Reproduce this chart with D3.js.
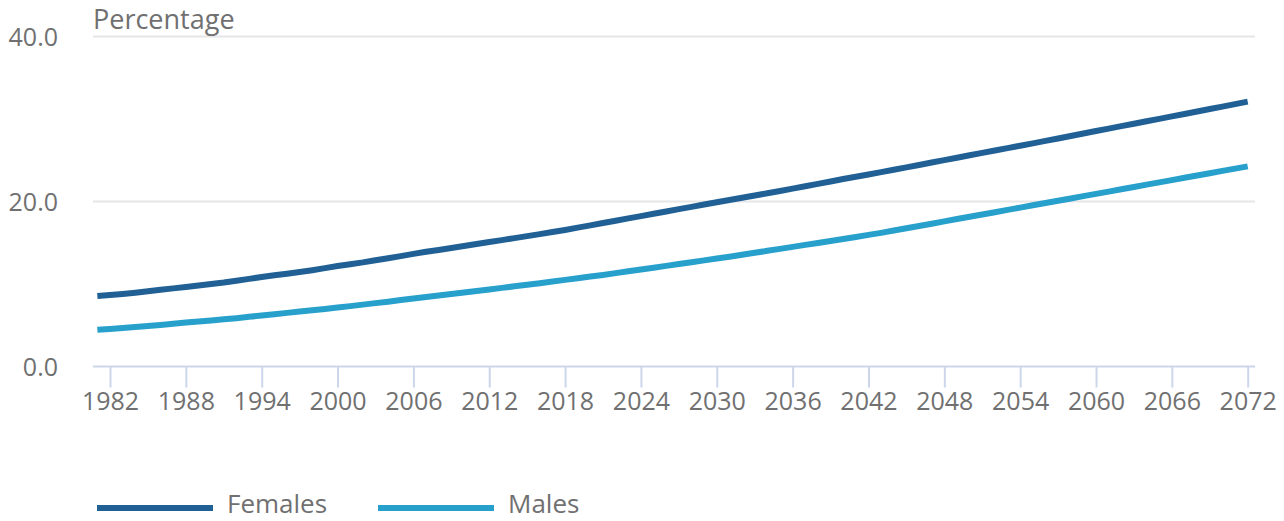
<!DOCTYPE html>
<html>
<head>
<meta charset="utf-8">
<script src="https://cdn.jsdelivr.net/npm/d3@7"></script>
<style>
  body { margin: 0; background: #fff; }
  text { font-family: "Open Sans", sans-serif; fill: #707071; }
</style>
</head>
<body>
<div id="chart"></div>
<script>
// data
var years = d3.range(1981, 2073);

var females = [
  8.55, 8.68, 8.80, 8.95, 9.12, 9.30, 9.47, 9.64, 9.82, 10.00,
  10.18, 10.40, 10.62, 10.85, 11.05, 11.25, 11.45, 11.67, 11.92, 12.18,
  12.40, 12.62, 12.88, 13.12, 13.38, 13.65, 13.90, 14.12, 14.36, 14.60,
  14.85, 15.08, 15.32, 15.56, 15.80, 16.05, 16.30, 16.55, 16.83, 17.11,
  17.39, 17.67, 17.95, 18.23, 18.51, 18.79, 19.07, 19.35, 19.63, 19.91,
  20.18, 20.45, 20.72, 21.00, 21.28, 21.56, 21.85, 22.14, 22.43, 22.72,
  23.00, 23.28, 23.56, 23.85, 24.14, 24.43, 24.72, 25.01, 25.30, 25.60,
  25.89, 26.18, 26.47, 26.76, 27.05, 27.35, 27.64, 27.94, 28.24, 28.54,
  28.83, 29.13, 29.43, 29.72, 30.02, 30.32, 30.61, 30.91, 31.21, 31.50,
  31.80, 32.10
];

var males = [
  4.45, 4.55, 4.66, 4.79, 4.92, 5.04, 5.17, 5.32, 5.45, 5.58,
  5.72, 5.86, 6.02, 6.18, 6.34, 6.50, 6.66, 6.82, 6.98, 7.15,
  7.32, 7.50, 7.68, 7.86, 8.05, 8.24, 8.43, 8.60, 8.78, 8.96,
  9.15, 9.34, 9.53, 9.72, 9.91, 10.10, 10.30, 10.50, 10.70, 10.90,
  11.10, 11.32, 11.54, 11.76, 11.98, 12.20, 12.42, 12.64, 12.86, 13.08,
  13.30, 13.54, 13.78, 14.02, 14.26, 14.50, 14.74, 14.98, 15.22, 15.46,
  15.70, 15.95, 16.20, 16.48, 16.76, 17.03, 17.31, 17.59, 17.87, 18.15,
  18.42, 18.70, 18.98, 19.26, 19.54, 19.81, 20.09, 20.37, 20.65, 20.93,
  21.20, 21.48, 21.76, 22.04, 22.32, 22.59, 22.87, 23.15, 23.43, 23.71,
  23.98, 24.26
];

var tickYears = [1982, 1988, 1994, 2000, 2006, 2012, 2018, 2024, 2030,
                 2036, 2042, 2048, 2054, 2060, 2066, 2072];
var yTicks = [0, 20, 40];

var seriesNames = ["Females", "Males"];
var seriesColors = ["#206095", "#27a0cc"];

// chart setup
var svgWidth = 1284;
var svgHeight = 521;

var svg = d3.select("#chart")
  .append("svg")
  .attr("width", svgWidth)
  .attr("height", svgHeight);

var plotLeft = 93, plotRight = 1255;

var x = d3.scaleLinear()
  .domain([1982, 2072])
  .range([110, 1247.7]);

var y = d3.scaleLinear()
  .domain([0, 40])
  .range([366.5, 36.5]);

// gridlines
svg.append("g")
  .selectAll("line")
  .data(yTicks.slice(1))
  .enter()
  .append("line")
  .attr("x1", plotLeft)
  .attr("x2", plotRight)
  .attr("y1", d => y(d))
  .attr("y2", d => y(d))
  .attr("stroke", "#e6e6e6")
  .attr("stroke-width", 2);

// y labels
svg.append("g")
  .selectAll("text")
  .data(yTicks)
  .enter()
  .append("text")
  .attr("x", 58)
  .attr("y", d => y(d) + 9)
  .attr("text-anchor", "end")
  .attr("font-size", "25px")
  .text(d => d.toFixed(1));

// axis title
svg.append("text")
  .attr("x", 93)
  .attr("y", 29)
  .attr("font-size", "27px")
  .text("Percentage");

// x axis
var xAxis = d3.axisBottom(x)
  .tickValues(tickYears)
  .tickFormat(d3.format("d"))
  .tickSize(21)
  .tickPadding(5)
  .tickSizeOuter(0);

var xAxisG = svg.append("g")
  .attr("transform", `translate(0, ${y(0)})`)
  .call(xAxis);

xAxisG.select(".domain").remove();
xAxisG.insert("line", ":first-child")
  .attr("x1", plotLeft)
  .attr("x2", plotRight)
  .attr("stroke", "#ccd6eb")
  .attr("stroke-width", 2);
xAxisG.selectAll(".tick line")
  .attr("stroke", "#ccd6eb")
  .attr("stroke-width", 2);
xAxisG.selectAll(".tick text")
  .attr("font-family", "Open Sans, sans-serif")
  .attr("font-size", "25px")
  .attr("fill", "#707071");

// lines
var seriesData = [females, males];
var line = d3.line()
  .x((d, i) => x(years[i]))
  .y(d => y(d));

svg.append("g")
  .selectAll("path")
  .data(seriesData)
  .enter()
  .append("path")
  .attr("d", d => line(d))
  .attr("fill", "none")
  .attr("stroke", (d, i) => seriesColors[i])
  .attr("stroke-width", 6)
  .attr("stroke-linejoin", "round");

// legend
var legendX = [97, 378];
var legend = svg.append("g")
  .selectAll("g")
  .data(seriesNames)
  .enter()
  .append("g")
  .attr("transform", (d, i) => `translate(${legendX[i]}, 508)`);

legend.append("line")
  .attr("x1", 0)
  .attr("x2", 116)
  .attr("stroke", (d, i) => seriesColors[i])
  .attr("stroke-width", 6);

legend.append("text")
  .attr("x", 130)
  .attr("y", 5)
  .attr("font-size", "26px")
  .text(d => d);
</script>
</body>
</html>
